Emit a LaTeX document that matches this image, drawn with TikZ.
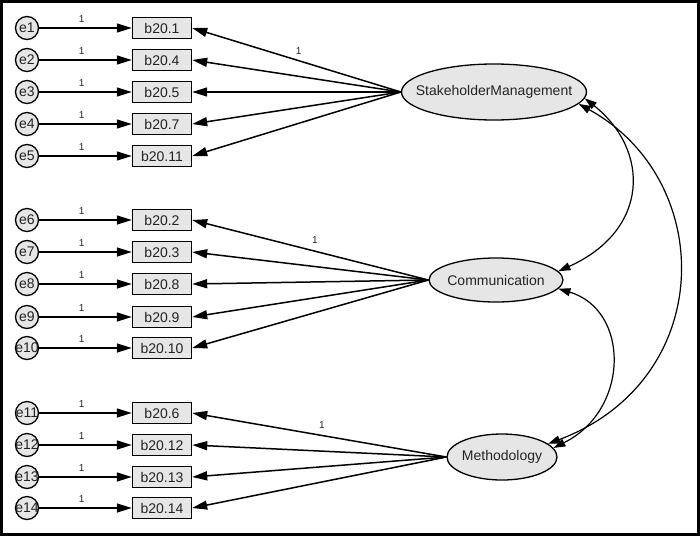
\documentclass[tikz,border=0pt]{standalone}
\usepackage{fontspec}
\setmainfont{Liberation Sans}
\usetikzlibrary{arrows.meta,shapes.geometric}
\newcommand{\zb}[1]{\makebox[0pt]{#1}}
\definecolor{boxfill}{RGB}{230,230,230}
\definecolor{txt}{RGB}{35,35,35}
\begin{document}
\begin{tikzpicture}[x=1pt,y=-1pt,
  font=\fontsize{14}{16}\selectfont, text=txt,
  errnode/.style={circle,draw,line width=1.3pt,fill=boxfill,minimum size=23pt,inner sep=0pt},
  obsbox/.style={rectangle,draw,line width=1.4pt,fill=boxfill,minimum width=59pt,minimum height=21pt,inner sep=0pt},
  latent/.style={ellipse,draw,line width=1.3pt,fill=boxfill,inner sep=0pt},
  arr/.style={line width=1.5pt,-{Triangle[length=15pt,width=9pt]}},
  cov/.style={line width=1.2pt,{Triangle[length=12pt,width=8pt]}-{Triangle[length=12pt,width=8pt]}},
  one/.style={font=\fontsize{10}{12}\selectfont,inner sep=1pt}
]
\useasboundingbox (0,0) rectangle (700,536);
\draw[line width=3pt] (1.5,1.5) rectangle (698.5,534.5);

% latent variables
\node[latent,minimum width=185pt,minimum height=56pt] (sm) at (494,92) {\zb{StakeholderManagement}};
\node[latent,minimum width=134pt,minimum height=44pt] (comm) at (496,280) {\zb{Communication}};
\node[latent,minimum width=110pt,minimum height=46pt] (meth) at (502,457) {\zb{Methodology}};

% error terms and observed variables
\foreach \n/\lab/\y in {1/b20.1/28, 2/b20.4/60, 3/b20.5/92, 4/b20.7/124, 5/b20.11/156,
                        6/b20.2/220, 7/b20.3/252, 8/b20.8/284, 9/b20.9/317, 10/b20.10/348,
                        11/b20.6/413, 12/b20.12/445, 13/b20.13/477, 14/b20.14/508}{
  \node[errnode] (e\n) at (27,\y) {\zb{e\n}};
  \node[obsbox] (b\n) at (162,\y) {\lab};
  \draw[arr] (e\n) -- node[one,above=4pt,pos=0.46] (l\n) {1} (b\n);
}

% loadings
\draw[arr] (sm.west) -- node[one,above=4pt,pos=0.49] (lsm) {1} (b1.east);
\foreach \n in {2,3,4,5}{ \draw[arr] (sm.west) -- (b\n.east); }
\draw[arr] (comm.west) -- node[one,above=6pt,pos=0.48] (lcomm) {1} (b6.east);
\foreach \n in {7,8,9,10}{ \draw[arr] (comm.west) -- (b\n.east); }
\draw[arr] (meth.west) -- node[one,above=5pt,pos=0.49] (lmeth) {1} (b11.east);
\foreach \n in {12,13,14}{ \draw[arr] (meth.west) -- (b\n.east); }

% covariances
\draw[cov] (sm.-4) .. controls (650,150) and (650,230) .. (comm.8);
\draw[cov] (comm.-8) .. controls (630,310) and (630,410) .. (meth.10);
\draw[cov] (sm.-8) .. controls (717,180) and (717,380) .. (meth.16);
\end{tikzpicture}
\end{document}
